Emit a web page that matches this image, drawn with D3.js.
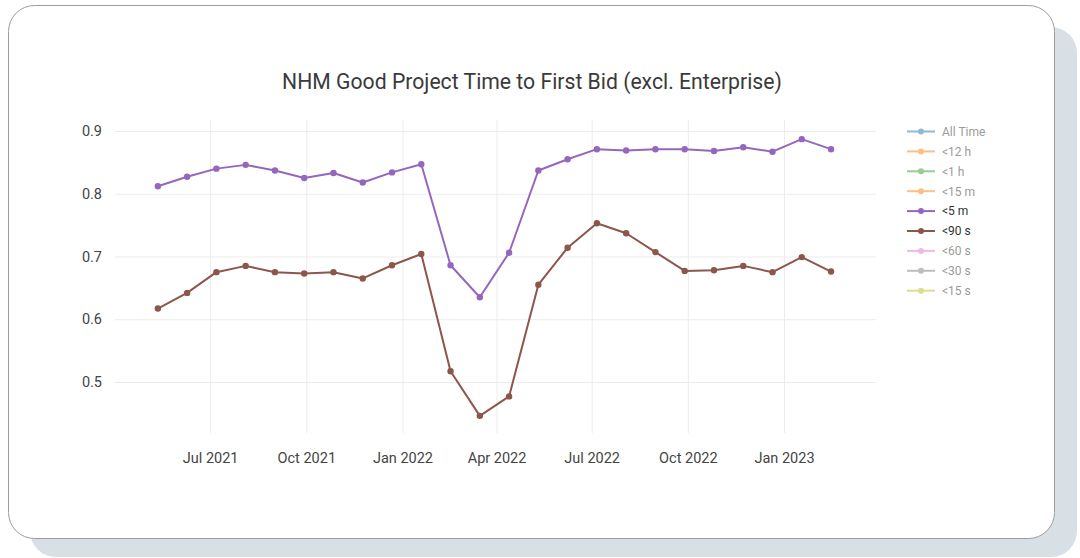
<!DOCTYPE html>
<html>
<head>
<meta charset="utf-8">
<script src="https://cdn.jsdelivr.net/npm/d3@7"></script>
<style>
  html, body { margin: 0; padding: 0; background: #ffffff; }
  svg { display: block; font-family: Roboto, "Noto Sans", sans-serif; }
</style>
</head>
<body>
<svg id="chart" width="1080" height="558"></svg>
<script>
// ---- data ----
const dates = [
  "2021-05-12","2021-06-09","2021-07-07","2021-08-04","2021-09-01","2021-09-29",
  "2021-10-27","2021-11-24","2021-12-22","2022-01-19","2022-02-16","2022-03-16",
  "2022-04-13","2022-05-11","2022-06-08","2022-07-06","2022-08-03","2022-08-31",
  "2022-09-28","2022-10-26","2022-11-23","2022-12-21","2023-01-18","2023-02-15"
];
const under5m = [
  0.812,0.827,0.840,0.846,0.837,0.825,0.833,0.818,0.834,0.847,0.686,0.635,
  0.706,0.837,0.855,0.871,0.869,0.871,0.871,0.868,0.874,0.867,0.887,0.871
];
const under90s = [
  0.617,0.642,0.675,0.685,0.675,0.673,0.675,0.665,0.686,0.704,0.517,0.446,
  0.477,0.655,0.714,0.753,0.737,0.707,0.677,0.678,0.685,0.675,0.699,0.676
];
const legendNames = ["All Time","<12 h","<1 h","<15 m","<5 m","<90 s","<60 s","<30 s","<15 s"];
const legendColors = ["#1f77b4","#ff7f0e","#2ca02c","#ff7f0e","#9467bd","#8c564b","#e377c2","#7f7f7f","#bcbd22"];
const legendVisible = [false,false,false,false,true,true,false,false,false];
const yTicks = [0.5,0.6,0.7,0.8,0.9];
const xTickDates = ["2021-07-01","2021-10-01","2022-01-01","2022-04-01","2022-07-01","2022-10-01","2023-01-01"];
const title = "NHM Good Project Time to First Bid (excl. Enterprise)";
const xDomain = ["2021-04-01","2023-03-30"];
const yDomain = [0.4187, 0.9175];

const parse = d3.utcParse("%Y-%m-%d");
const svg = d3.select("#chart");

// card shadow and card
svg.append("rect").attr("x",30).attr("y",27).attr("width",1047).attr("height",530)
  .attr("rx",26).attr("fill","#d8e0e5");
svg.append("rect").attr("x",8.5).attr("y",5.5).attr("width",1046).attr("height",533)
  .attr("rx",26).attr("fill","#ffffff").attr("stroke","#9c9c9c").attr("stroke-width",1);

// scales
const x = d3.scaleUtc().domain(xDomain.map(parse)).range([115, 876]);
const y = d3.scaleLinear().domain(yDomain).range([433, 120]);

// gridlines via axes
const yGrid = d3.axisLeft(y).tickValues(yTicks).tickSize(-(876-115)).tickFormat("");
svg.append("g").attr("transform","translate(115,0)").call(yGrid)
  .call(g => g.select(".domain").remove())
  .call(g => g.selectAll("line").attr("stroke","#ececec").attr("stroke-width",1));
const xGrid = d3.axisBottom(x).tickValues(xTickDates.map(parse)).tickSize(-(433-120)).tickFormat("");
svg.append("g").attr("transform","translate(0,433)").call(xGrid)
  .call(g => g.select(".domain").remove())
  .call(g => g.selectAll("line").attr("stroke","#ececec").attr("stroke-width",1));

// axis labels
const yAxis = d3.axisLeft(y).tickValues(yTicks).tickSize(0).tickPadding(0).tickFormat(d3.format(".1f"));
svg.append("g").attr("transform","translate(102,0)").call(yAxis)
  .call(g => g.select(".domain").remove())
  .call(g => g.selectAll("text").attr("fill","#444").attr("font-size","14.5px")
     .attr("font-family","Roboto, sans-serif"));
const xAxis = d3.axisBottom(x).tickValues(xTickDates.map(parse)).tickSize(0).tickPadding(0)
  .tickFormat(d3.utcFormat("%b %Y"));
svg.append("g").attr("transform","translate(0,453)").call(xAxis)
  .call(g => g.select(".domain").remove())
  .call(g => g.selectAll("text").attr("fill","#444").attr("font-size","14.5px")
     .attr("font-family","Roboto, sans-serif"));

// series
const series = [
  {name:"<90 s", values: under90s, color: "#8c564b"},
  {name:"<5 m", values: under5m, color: "#9467bd"}
];
const line = d3.line().x(d => x(d.date)).y(d => y(d.value));
series.forEach(s => {
  const pts = dates.map((d,i) => ({date: parse(d), value: s.values[i]}));
  svg.append("path").datum(pts).attr("d", line).attr("fill","none")
    .attr("stroke", s.color).attr("stroke-width", 2).attr("stroke-linejoin","round");
  svg.append("g").selectAll("circle").data(pts).join("circle")
    .attr("cx", d => x(d.date)).attr("cy", d => y(d.value)).attr("r", 3.2)
    .attr("fill", s.color);
});

// title
svg.append("text").attr("x", 532).attr("y", 89).attr("text-anchor","middle")
  .attr("font-size","21.2px").attr("fill","#3a3a3a").attr("font-family","Roboto, sans-serif")
  .text(title);

// legend
const leg = svg.append("g");
legendNames.forEach((n,i) => {
  const gy = 131.5 + i*19.9;
  const g = leg.append("g").attr("opacity", legendVisible[i] ? 1 : 0.5);
  g.append("line").attr("x1",907).attr("x2",935).attr("y1",gy).attr("y2",gy)
    .attr("stroke", legendColors[i]).attr("stroke-width",2);
  g.append("circle").attr("cx",921).attr("cy",gy).attr("r",3).attr("fill",legendColors[i]);
  g.append("text").attr("x",942).attr("y",gy+4.3).attr("font-size","12px")
    .attr("fill","#333").attr("font-family","Roboto, sans-serif").text(n);
});
</script>
</body>
</html>
